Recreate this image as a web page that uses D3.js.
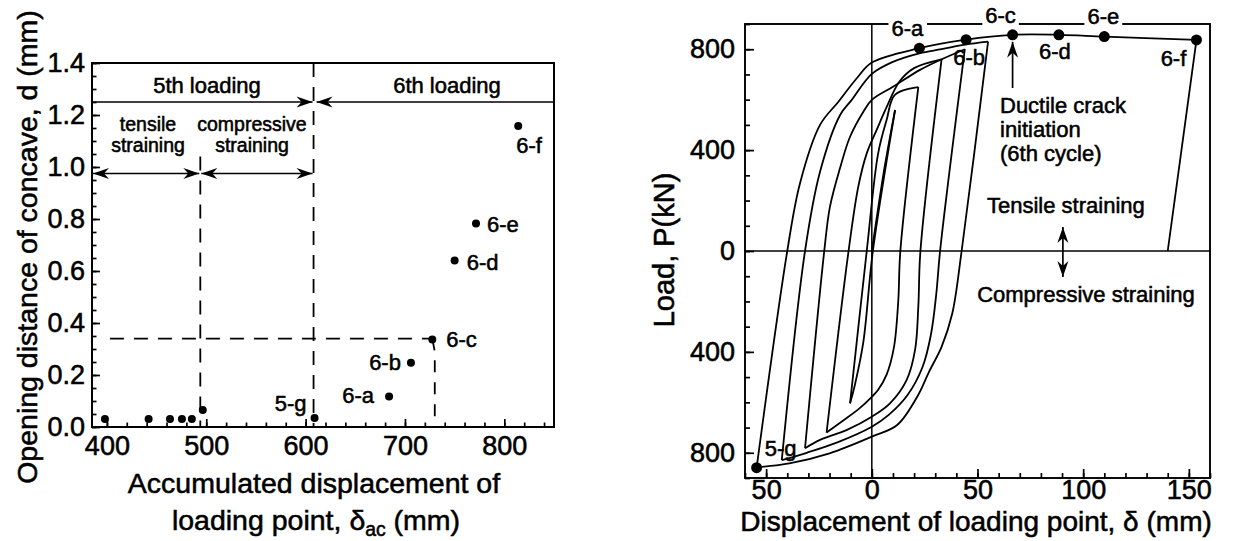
<!DOCTYPE html>
<html>
<head>
<meta charset="utf-8">
<script src="https://cdn.jsdelivr.net/npm/d3@7"></script>
<style>
  html, body { margin: 0; padding: 0; background: #fff; }
  svg { display: block; font-family: "Liberation Sans", Arial, Helvetica, sans-serif; }
  text { fill: #000; stroke: #000; stroke-width: 0.55px; }
</style>
</head>
<body>
<svg id="fig" width="1233" height="541"></svg>
<script>
// ---------- Left panel: opening distance of concave vs accumulated displacement ----------
const accDisp    = [398, 442, 463.5, 475.5, 485.5, 496.5, 609, 684, 706, 727.5, 750, 771.5, 814];
const opening    = [0.031, 0.031, 0.031, 0.031, 0.031, 0.065, 0.035, 0.117, 0.247, 0.337, 0.640, 0.783, 1.158];
const pointNames = ["", "", "", "", "", "", "5-g", "6-a", "6-b", "6-c", "6-d", "6-e", "6-f"];
const accTicks   = [400, 500, 600, 700, 800];
const openTicks  = [0, 0.2, 0.4, 0.6, 0.8, 1.0, 1.2, 1.4];
const tensileEnd = 494;      // end of tensile straining in the 5th loading
const fifthEnd   = 608;      // end of the 5th loading
const loadingLevel = 1.25;   // height of the loading-stage arrows
const strainLevel  = 0.975;  // height of the straining-stage arrows
const crackOpening = 0.34;   // opening at ductile crack initiation (6-c)
const crackAcc     = 730;

// ---------- Right panel: load vs displacement of loading point ----------
// each branch: [displacement (mm), load (kN)]
const up1   = [[0, 0], [3, 170], [6, 330], [9, 470], [11, 559]];
const down1 = [[11, 559], [0.5, 0], [-4, -360], [-8, -530], [-10.3, -604]];
const up2   = [[-10.3, -604], [-2.4, 0], [3, 387], [7, 519], [10.9, 619], [22, 650]];
const down2 = [[22, 650], [13.5, 0], [12.5, -200], [10.5, -380], [7, -490], [3, -550], [0, -578], [-6, -625], [-14, -675], [-21.4, -720]];
const up3   = [[-21.4, -720], [-11, 0], [-6.4, 255], [-2.4, 387], [2.3, 480], [7, 570], [13, 671], [20, 725], [33, 760]];
const down3 = [[33, 760], [23, 0], [22, -220], [20.5, -390], [16.5, -511], [8.6, -604], [0, -657], [-12, -710], [-24.5, -749], [-31.6, -782]];
const up4   = [[-31.6, -782], [-22.5, 0], [-19.8, 176], [-15, 330], [-10.3, 453], [-4, 552], [0, 599], [10, 651], [22.8, 718], [32.2, 757], [44, 800]];
const down4 = [[44, 800], [32.3, 0], [30.5, -170], [28, -330], [24, -460], [17, -570], [8, -650], [0, -697], [-16.6, -760], [-30.8, -800], [-42.6, -829]];
const up5   = [[-42.6, -829], [-31.6, 0], [-24.5, 314], [-15, 539], [-9.5, 599], [0, 702], [10, 750], [22.5, 784], [33, 800], [44, 818], [55, 830]];
const down5 = [[55, 830], [42.5, 0], [38, -250], [33, -380], [27, -480], [22, -570], [12, -690], [0, -736], [-20, -802], [-39, -842], [-51, -855], [-54.5, -859]];
const up6   = [[-54.5, -859], [-40, 0], [-34, 268], [-24.5, 500], [-15.8, 592], [-7.1, 685], [0, 747], [22.5, 804], [44.6, 838], [66.6, 857], [88.5, 857], [110, 850], [153.6, 837]];
const down6 = [[153.6, 837], [140, 0]];

const markedDisp  = [-54.5, 22.5, 44.6, 66.6, 88.5, 110, 153.6];
const markedLoad  = [-859, 804, 838, 857, 857, 850, 837];
const markedNames = ["5-g", "6-a", "6-b", "6-c", "6-d", "6-e", "6-f"];
const dispTicks   = [-50, 0, 50, 100, 150];
const loadTicks   = [-800, -400, 0, 400, 800];

// ---------- layout ----------
const svg = d3.select("#fig");
const L = { x0: 92, x1: 554, y0: 63, y1: 427 };
const R = { x0: 745, x1: 1210, y0: 24, y1: 478 };
const TICK_FONT = 27, TITLE_FONT = 28.5, NOTE_FONT = 22, SMALL_FONT = 19.5;
const LINE_W = 1.8;

const xL = d3.scaleLinear().domain([385, 850]).range([L.x0, L.x1]);
const yL = d3.scaleLinear().domain([0, 1.4]).range([L.y1, L.y0]);
const xR = d3.scaleLinear().domain([-60, 160]).range([R.x0, R.x1]);
const yR = d3.scaleLinear().domain([-900, 900]).range([R.y1, R.y0]);

// arrowhead marker
const defs = svg.append("defs");
defs.append("marker")
  .attr("id", "barb").attr("viewBox", "-17 -7 19 14")
  .attr("refX", 0).attr("refY", 0)
  .attr("markerWidth", 19).attr("markerHeight", 14)
  .attr("markerUnits", "userSpaceOnUse")
  .attr("orient", "auto-start-reverse")
  .append("path").attr("d", "M0,0 L-16,-5.5 L-11,0 L-16,5.5 Z").attr("fill", "#000");

function styleAxis(g, size) {
  g.select(".domain").remove();
  g.selectAll(".tick line").attr("stroke", "#000").attr("stroke-width", 1.7);
  g.selectAll(".tick text").attr("font-size", size)
    .attr("font-family", "Liberation Sans, Arial, sans-serif").attr("fill", "#000");
}

function arrowLine(g, x1, y1, x2, y2, both) {
  const l = g.append("line").attr("x1", x1).attr("y1", y1).attr("x2", x2).attr("y2", y2)
    .attr("stroke", "#000").attr("stroke-width", 1.7).attr("marker-end", "url(#barb)");
  if (both) l.attr("marker-start", "url(#barb)");
  return l;
}

// ===== Left panel =====
const gl = svg.append("g");
// minor ticks
gl.append("g").attr("transform", `translate(0,${L.y1})`)
  .call(d3.axisBottom(xL).tickValues(d3.range(400, 850, 20)).tickSize(-4.5).tickSizeOuter(0).tickFormat(""))
  .call(g => styleAxis(g, TICK_FONT));
gl.append("g").attr("transform", `translate(${L.x0},0)`)
  .call(d3.axisLeft(yL).tickValues(d3.range(0, 1.401, 0.05)).tickSize(-4.5).tickSizeOuter(0).tickFormat(""))
  .call(g => styleAxis(g, TICK_FONT));
// major ticks + labels
gl.append("g").attr("transform", `translate(0,${L.y1})`)
  .call(d3.axisBottom(xL).tickValues(accTicks).tickSize(-8).tickSizeOuter(0).tickPadding(9).tickFormat(d3.format("d")))
  .call(g => styleAxis(g, TICK_FONT));
gl.append("g").attr("transform", `translate(${L.x0},0)`)
  .call(d3.axisLeft(yL).tickValues(openTicks).tickSize(-8).tickSizeOuter(0).tickPadding(7).tickFormat(d3.format(".1f")))
  .call(g => styleAxis(g, TICK_FONT));

gl.append("rect").attr("x", L.x0).attr("y", L.y0).attr("width", L.x1 - L.x0).attr("height", L.y1 - L.y0)
  .attr("fill", "none").attr("stroke", "#000").attr("stroke-width", 2);

// loading stage guides
const dash = "14,10";
gl.append("line").attr("x1", xL(fifthEnd)).attr("x2", xL(fifthEnd)).attr("y1", yL(1.4)).attr("y2", yL(0))
  .attr("stroke", "#000").attr("stroke-width", LINE_W).attr("stroke-dasharray", dash);
gl.append("line").attr("x1", xL(tensileEnd)).attr("x2", xL(tensileEnd)).attr("y1", yL(1.04)).attr("y2", yL(0))
  .attr("stroke", "#000").attr("stroke-width", LINE_W).attr("stroke-dasharray", dash);
gl.append("line").attr("x1", xL(403)).attr("x2", xL(crackAcc - 2.5)).attr("y1", yL(crackOpening)).attr("y2", yL(crackOpening))
  .attr("stroke", "#000").attr("stroke-width", LINE_W).attr("stroke-dasharray", dash);
gl.append("path")
  .attr("d", d3.line().x(d => xL(d[0])).y(d => yL(d[1]))([[crackAcc - 2.5, crackOpening], [crackAcc, 0.29], [crackAcc, 0]]))
  .attr("fill", "none").attr("stroke", "#000").attr("stroke-width", LINE_W).attr("stroke-dasharray", "12,10");

const yLoad = yL(loadingLevel), yStrain = yL(strainLevel);
arrowLine(gl, L.x0, yLoad, xL(fifthEnd) - 1, yLoad, false);
arrowLine(gl, L.x1, yLoad, xL(fifthEnd) + 3, yLoad, false);
arrowLine(gl, L.x0 + 1, yStrain, xL(tensileEnd) - 1, yStrain, true);
arrowLine(gl, xL(tensileEnd) + 1, yStrain, xL(fifthEnd) - 1, yStrain, true);

gl.append("text").attr("x", 207).attr("y", 93).attr("text-anchor", "middle").attr("font-size", NOTE_FONT).text("5th loading");
gl.append("text").attr("x", 447).attr("y", 93).attr("text-anchor", "middle").attr("font-size", NOTE_FONT).text("6th loading");
gl.append("text").attr("x", 148).attr("y", 131).attr("text-anchor", "middle").attr("font-size", SMALL_FONT).text("tensile");
gl.append("text").attr("x", 148).attr("y", 152).attr("text-anchor", "middle").attr("font-size", SMALL_FONT).text("straining");
gl.append("text").attr("x", 252).attr("y", 131).attr("text-anchor", "middle").attr("font-size", SMALL_FONT).text("compressive");
gl.append("text").attr("x", 252).attr("y", 152).attr("text-anchor", "middle").attr("font-size", SMALL_FONT).text("straining");

// measured points
const leftPts = accDisp.map((a, i) => ({ a, d: opening[i], name: pointNames[i] }));
gl.selectAll("circle.pt").data(leftPts).join("circle").attr("class", "pt")
  .attr("cx", p => xL(p.a)).attr("cy", p => yL(p.d)).attr("r", 4).attr("fill", "#000");

const leftLabelPos = {
  "5-g": { dx: -8, dy: -7, anchor: "end" },
  "6-a": { dx: -15, dy: 6, anchor: "end" },
  "6-b": { dx: -10, dy: 7, anchor: "end" },
  "6-c": { dx: 14, dy: 8, anchor: "start" },
  "6-d": { dx: 12, dy: 9, anchor: "start" },
  "6-e": { dx: 11, dy: 9, anchor: "start" },
  "6-f": { dx: -2, dy: 27, anchor: "start" }
};
gl.selectAll("text.ptl").data(leftPts.filter(p => p.name)).join("text").attr("class", "ptl")
  .attr("x", p => xL(p.a) + leftLabelPos[p.name].dx)
  .attr("y", p => yL(p.d) + leftLabelPos[p.name].dy)
  .attr("text-anchor", p => leftLabelPos[p.name].anchor)
  .attr("font-size", NOTE_FONT).text(p => p.name);

// titles
gl.append("text").attr("transform", "translate(37,247) rotate(-90)").attr("text-anchor", "middle")
  .attr("font-size", TITLE_FONT).text("Opening distance of concave, d (mm)");
gl.append("text").attr("x", 314).attr("y", 493).attr("text-anchor", "middle")
  .attr("font-size", TITLE_FONT).text("Accumulated displacement of");
const t2 = gl.append("text").attr("x", 316).attr("y", 530).attr("text-anchor", "middle").attr("font-size", TITLE_FONT);
t2.append("tspan").text("loading point, \u03b4");
t2.append("tspan").attr("font-size", TITLE_FONT * 0.68).attr("dy", 6).text("ac");
t2.append("tspan").attr("dy", -6).text(" (mm)");

// ===== Right panel =====
const gr = svg.append("g");
gr.append("g").attr("transform", `translate(0,${R.y1})`)
  .call(d3.axisBottom(xR).tickValues(d3.range(-60, 161, 10)).tickSize(-5).tickSizeOuter(0).tickFormat(""))
  .call(g => styleAxis(g, TICK_FONT));
gr.append("g").attr("transform", `translate(${R.x0},0)`)
  .call(d3.axisLeft(yR).tickValues(d3.range(-900, 901, 100)).tickSize(-5).tickSizeOuter(0).tickFormat(""))
  .call(g => styleAxis(g, TICK_FONT));
gr.append("g").attr("transform", `translate(0,${R.y1})`)
  .call(d3.axisBottom(xR).tickValues(dispTicks).tickSize(-9).tickSizeOuter(0).tickPadding(2).tickFormat(d => Math.abs(d)))
  .call(g => styleAxis(g, TICK_FONT));
gr.append("g").attr("transform", `translate(${R.x0},0)`)
  .call(d3.axisLeft(yR).tickValues(loadTicks).tickSize(-9).tickSizeOuter(0).tickPadding(10).tickFormat(d => Math.abs(d)))
  .call(g => styleAxis(g, TICK_FONT));

gr.append("rect").attr("x", R.x0).attr("y", R.y0).attr("width", R.x1 - R.x0).attr("height", R.y1 - R.y0)
  .attr("fill", "none").attr("stroke", "#000").attr("stroke-width", 1.9);
// zero axes
gr.append("line").attr("x1", R.x0).attr("x2", R.x1).attr("y1", yR(0)).attr("y2", yR(0)).attr("stroke", "#000").attr("stroke-width", 1.7);
gr.append("line").attr("x1", xR(0)).attr("x2", xR(0)).attr("y1", R.y0).attr("y2", R.y1).attr("stroke", "#000").attr("stroke-width", 1.5);

// hysteresis branches
const branch = d3.line().x(d => xR(d[0])).y(d => yR(d[1])).curve(d3.curveCatmullRom.alpha(0.5));
const branches = [up1, down1, up2, down2, up3, down3, up4, down4, up5, down5, up6, down6];
gr.selectAll("path.loop").data(branches).join("path").attr("class", "loop")
  .attr("d", branch).attr("fill", "none").attr("stroke", "#000").attr("stroke-width", LINE_W).attr("stroke-linejoin", "round");

// marked states
const rightPts = markedDisp.map((d, i) => ({ d, p: markedLoad[i], name: markedNames[i] }));
gr.selectAll("circle.mk").data(rightPts).join("circle").attr("class", "mk")
  .attr("cx", q => xR(q.d)).attr("cy", q => yR(q.p)).attr("r", 5.5).attr("fill", "#000");

const rightLabelPos = {
  "5-g": { dx: 24, dy: -12, onFrame: false },
  "6-a": { dx: -12, dy: -12, onFrame: true },
  "6-b": { dx: 3, dy: 25, onFrame: false },
  "6-c": { dx: -12, dy: -12, onFrame: true },
  "6-d": { dx: -4, dy: 24, onFrame: false },
  "6-e": { dx: -1, dy: -13, onFrame: true },
  "6-f": { dx: -23, dy: 26, onFrame: false }
};
const lab = gr.selectAll("g.mkl").data(rightPts).join("g").attr("class", "mkl");
lab.append("rect").attr("fill", "#fff");
lab.append("text").attr("text-anchor", "middle").attr("font-size", NOTE_FONT)
  .attr("x", q => xR(q.d) + rightLabelPos[q.name].dx)
  .attr("y", q => yR(q.p) + rightLabelPos[q.name].dy)
  .text(q => q.name);
lab.each(function (q) {
  const g = d3.select(this);
  if (!rightLabelPos[q.name].onFrame) { g.select("rect").remove(); return; }
  const bb = g.select("text").node().getBBox();
  g.select("rect").attr("x", bb.x - 3).attr("width", bb.width + 6).attr("y", R.y0 - 3).attr("height", 6);
});

// annotations
const xCrack = xR(66.6);
arrowLine(gr, xCrack, 88, xCrack, yR(857) + 7, false);
gr.append("text").attr("x", 1000).attr("y", 113).attr("font-size", NOTE_FONT).text("Ductile crack");
gr.append("text").attr("x", 1000).attr("y", 137).attr("font-size", NOTE_FONT).text("initiation");
gr.append("text").attr("x", 1000).attr("y", 161).attr("font-size", NOTE_FONT).text("(6th cycle)");
gr.append("text").attr("x", 987).attr("y", 213).attr("font-size", NOTE_FONT).text("Tensile straining");
arrowLine(gr, xR(90.4), yR(95), xR(90.4), yR(-103), true);
gr.append("text").attr("x", 1086).attr("y", 302).attr("text-anchor", "middle").attr("font-size", NOTE_FONT).text("Compressive straining");

gr.append("text").attr("transform", "translate(674,250) rotate(-90)").attr("text-anchor", "middle")
  .attr("font-size", 29).text("Load, P(kN)");
gr.append("text").attr("x", 976).attr("y", 531).attr("text-anchor", "middle")
  .attr("font-size", 28).text("Displacement of loading point, \u03b4 (mm)");
</script>
</body>
</html>
